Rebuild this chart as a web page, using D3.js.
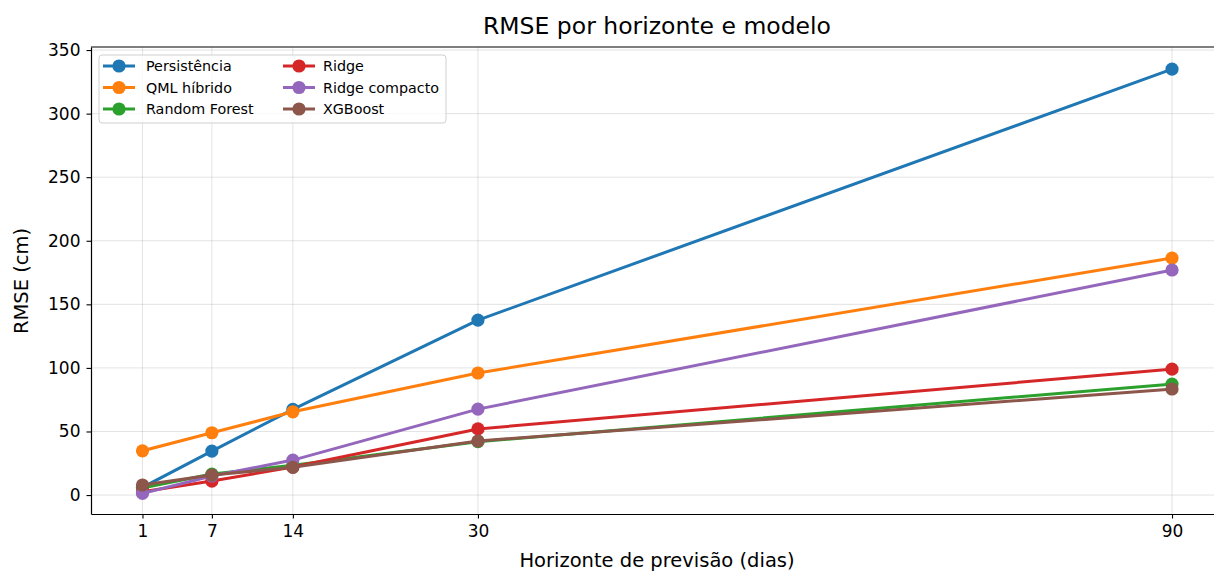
<!DOCTYPE html>
<html><head><meta charset="utf-8">
<script src="https://cdn.jsdelivr.net/npm/d3@7"></script>
<style>body{margin:0;background:#fff}svg{font-family:"DejaVu Sans",sans-serif}</style>
</head><body><svg id="c" width="1214" height="572"></svg>
<script>
const horizons = [1, 7, 14, 30, 90];
const seriesNames = ["Persistência", "QML híbrido", "Random Forest", "Ridge", "Ridge compacto", "XGBoost"];
const persistencia = [6, 34.6, 67.4, 137.6, 335];
const qmlHibrido = [34.8, 49, 65.5, 96, 186.4];
const randomForest = [5.5, 16.5, 23.5, 42, 87.3];
const ridge = [2.6, 11, 22, 52, 99];
const ridgeCompacto = [1.3, 15, 27.5, 67.6, 177];
const xgboost = [7.9, 15.7, 21.8, 42.5, 83.4];
const colors = ["#1f77b4", "#ff7f0e", "#2ca02c", "#d62728", "#9467bd", "#8c564b"];
const yTicks = [0, 50, 100, 150, 200, 250, 300, 350];
const allSeries = [persistencia, qmlHibrido, randomForest, ridge, ridgeCompacto, xgboost];

const svg = d3.select("#c");
const L = 91, R = 1223.5, T = 47, B = 514;
const x = d3.scaleLinear().domain([-3.45, 94.45]).range([L, R]);
const y = d3.scaleLinear().domain([-14.9, 352.4]).range([B, T]);

// grid
const g = svg.append("g");
g.selectAll(".gx").data(horizons).join("line")
  .attr("x1", d => x(d)).attr("x2", d => x(d)).attr("y1", T).attr("y2", B)
  .attr("stroke", "#b0b0b0").attr("stroke-opacity", 0.35).attr("stroke-width", 1);
g.selectAll(".gy").data(yTicks).join("line")
  .attr("x1", L).attr("x2", R).attr("y1", d => y(d)).attr("y2", d => y(d))
  .attr("stroke", "#b0b0b0").attr("stroke-opacity", 0.35).attr("stroke-width", 1);

// lines
const line = d3.line().x((d, i) => x(horizons[i])).y(d => y(d));
allSeries.forEach((s, k) => {
  const sg = svg.append("g");
  sg.append("path").datum(s).attr("d", line).attr("fill", "none")
    .attr("stroke", colors[k]).attr("stroke-width", 3).attr("stroke-linejoin", "round").attr("stroke-linecap", "square");
  sg.selectAll("circle").data(s).join("circle")
    .attr("cx", (d, i) => x(horizons[i])).attr("cy", d => y(d)).attr("r", 6.6).attr("fill", colors[k]);
});

// axes
const xa = svg.append("g").attr("transform", `translate(0,${B})`)
  .call(d3.axisBottom(x).tickValues(horizons).tickSize(4.5).tickPadding(6).tickSizeOuter(0));
const ya = svg.append("g").attr("transform", `translate(${L},0)`)
  .call(d3.axisLeft(y).tickValues(yTicks).tickSize(4.5).tickPadding(6).tickSizeOuter(0));
[xa, ya].forEach(a => {
  a.selectAll("text").attr("font-size", 17).attr("fill", "#000").attr("font-family", "DejaVu Sans");
  a.selectAll("line").attr("stroke", "#000").attr("stroke-width", 1.1);
  a.select(".domain").attr("stroke", "#000").attr("stroke-width", 1.2);
});
svg.append("line").attr("x1", L).attr("x2", R).attr("y1", T).attr("y2", T).attr("stroke", "#000").attr("stroke-width", 1.2);
svg.append("line").attr("x1", R).attr("x2", R).attr("y1", T).attr("y2", B).attr("stroke", "#000").attr("stroke-width", 1.2);

// labels
svg.append("text").attr("x", 657).attr("y", 34).attr("text-anchor", "middle").attr("font-size", 23.5).text("RMSE por horizonte e modelo");
svg.append("text").attr("x", 657).attr("y", 566.5).attr("text-anchor", "middle").attr("font-size", 19.5).text("Horizonte de previsão (dias)");
svg.append("text").attr("transform", "translate(28,281) rotate(-90)").attr("text-anchor", "middle").attr("font-size", 19.5).text("RMSE (cm)");

// legend
const lg = svg.append("g");
lg.append("rect").attr("x", 99).attr("y", 55).attr("width", 347).attr("height", 68).attr("rx", 3)
  .attr("fill", "#fff").attr("fill-opacity", 0.8).attr("stroke", "#d0d0d0").attr("stroke-width", 1);
seriesNames.forEach((n, k) => {
  const col = Math.floor(k / 3), row = k % 3;
  const x0 = col === 0 ? 103 : 283, yy = 66 + row * 21.5;
  lg.append("line").attr("x1", x0).attr("x2", x0 + 32).attr("y1", yy).attr("y2", yy).attr("stroke", colors[k]).attr("stroke-width", 3);
  lg.append("circle").attr("cx", x0 + 16).attr("cy", yy).attr("r", 6.6).attr("fill", colors[k]);
  lg.append("text").attr("x", (col === 0 ? 146 : 323)).attr("y", yy + 5).attr("font-size", 14.3).text(n);
});
</script></body></html>
